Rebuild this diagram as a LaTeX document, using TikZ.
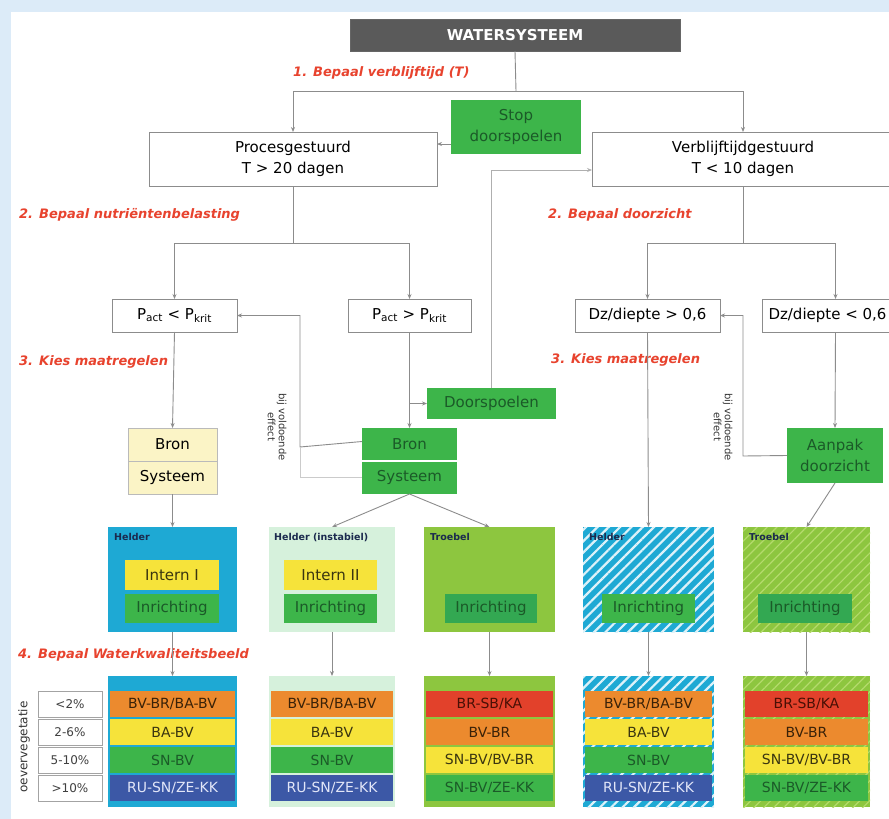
\documentclass[tikz,border=0pt]{standalone}
\usepackage{fontspec}
\setmainfont{DejaVu Sans}
\usetikzlibrary{arrows.meta,patterns.meta}
\definecolor{bgblue}{HTML}{DCEBF8}
\definecolor{lgray}{HTML}{8C8C8C}
\definecolor{dgray}{HTML}{5A5A5A}
\definecolor{grn}{HTML}{3DB54A}
\definecolor{grn2}{HTML}{33A852}
\definecolor{dkgrn}{HTML}{1B5A28}
\definecolor{rd}{HTML}{E8432E}
\definecolor{cyan1}{HTML}{1EA9D4}
\definecolor{ygrn}{HTML}{8DC63F}
\definecolor{ygrnl}{HTML}{B4DA6C}
\definecolor{mint}{HTML}{D6F1DC}
\definecolor{yel}{HTML}{F6E33A}
\definecolor{lyel}{HTML}{FBF4C6}
\definecolor{orng}{HTML}{EC8A2E}
\definecolor{red2}{HTML}{E2412B}
\definecolor{blu}{HTML}{3C58A6}
\definecolor{navy}{HTML}{1B2A4E}
\definecolor{brn}{HTML}{3A2208}
\definecolor{olv}{HTML}{3A3510}
\definecolor{drd}{HTML}{4A1005}
\definecolor{lav}{HTML}{E2E6F8}
\newcommand\rowsHelder[3]{%
 \node[rowbx, minimum width=#3, fill=orng, text=brn] (#1-1) at (#2,691) {BV-BR/BA-BV};
 \node[rowbx, minimum width=#3, fill=yel, text=olv] (#1-2) at (#2,719) {BA-BV};
 \node[rowbx, minimum width=#3, fill=grn, text=dkgrn] (#1-3) at (#2,747) {SN-BV};
 \node[rowbx, minimum width=#3, fill=blu, text=lav] (#1-4) at (#2,775) {RU-SN/ZE-KK};}
\newcommand\rowsTroebel[3]{%
 \node[rowbx, minimum width=#3, fill=red2, text=drd] (#1-1) at (#2,691) {BR-SB/KA};
 \node[rowbx, minimum width=#3, fill=orng, text=brn] (#1-2) at (#2,719) {BV-BR};
 \node[rowbx, minimum width=#3, fill=yel, text=olv] (#1-3) at (#2,747) {SN-BV/BV-BR};
 \node[rowbx, minimum width=#3, fill=grn, text=dkgrn] (#1-4) at (#2,775) {SN-BV/ZE-KK};}
\begin{document}
\begin{tikzpicture}[x=1pt,y=-1pt,
 bx/.style={inner sep=0pt, outer sep=0pt, anchor=north west, align=center, font=\fontsize{15}{21}\selectfont},
 wbox/.style={bx, draw=lgray, fill=white, line width=0.8pt},
 gbox/.style={bx, fill=grn, text=dkgrn},
 frame/.style={bx, minimum height=105pt},
 frame5/.style={bx, minimum height=131pt},
 rowbx/.style={bx, minimum height=26pt, font=\fontsize{14}{16}\selectfont},
 cell/.style={bx, draw=lgray!80, fill=white, line width=0.6pt, minimum width=64pt, minimum height=26pt, font=\fontsize{12}{14}\selectfont, text=black!75},
 tag/.style={anchor=north west, inner sep=0pt, font=\bfseries\fontsize{9.5}{11}\selectfont, text=navy},
 rot/.style={rotate=-90, align=center, font=\fontsize{10}{11}\selectfont, inner sep=1pt, text=black!80},
 steplbl/.style={text=rd, font=\bfseries\itshape\fontsize{13}{15}\selectfont, anchor=west, inner sep=1pt, fill=white},
 wire/.style={draw=lgray, line width=0.9pt},
 conn/.style={wire, -{Stealth[length=5pt,width=4pt]}},
 hatchD/.style={preaction={fill=cyan1}, pattern={Lines[angle=45,distance=8pt,line width=2.2pt]}, pattern color=white!85!cyan1},
 hatchE/.style={preaction={fill=ygrn}, pattern={Lines[angle=45,distance=7pt,line width=1.2pt]}, pattern color=ygrnl}]
\useasboundingbox (0,0) rectangle (889,819);
\clip (0,0) rectangle (889,819);
\fill[bgblue] (0,0) rectangle (889,819);
\fill[white] (11,12) rectangle (889,819);

% level 0/1
\node[bx, fill=dgray, draw=black!60, text=white, font=\bfseries\fontsize{15}{18}\selectfont, minimum width=330pt, minimum height=32pt] (ws) at (350,19) {WATERSYSTEEM};
\node[steplbl] (l1) at (292,73) {1. Bepaal verblijftijd (T)};
\node[gbox, minimum width=130pt, minimum height=54pt] (stop) at (451,100) {Stop\\doorspoelen};
\node[wbox, minimum width=288pt, minimum height=54pt] (proc) at (149,132) {Procesgestuurd\\T > 20 dagen};
\node[wbox, minimum width=302pt, minimum height=54pt] (verb) at (592,132) {Verblijftijdgestuurd\\T < 10 dagen};
\coordinate (j1) at (516,91);
\draw[wire] (ws.south) -- (j1);
\draw[conn] (j1) -| (proc.north);
\draw[conn] (j1) -| (verb.north);
\draw[conn] ([yshift=-17pt]stop.west) -- ([yshift=-17pt]stop.west -| proc.east);

% level 2
\node[steplbl] (l2a) at (18,215) {2. Bepaal nutriëntenbelasting};
\node[steplbl] (l2b) at (547,215) {2. Bepaal doorzicht};
\node[wbox, minimum width=125pt, minimum height=33pt] (plt) at (112,299) {P\textsubscript{act} < P\textsubscript{krit}};
\node[wbox, minimum width=123pt, minimum height=33pt] (pgt) at (348,299) {P\textsubscript{act} > P\textsubscript{krit}};
\node[wbox, minimum width=145pt, minimum height=33pt] (dzg) at (575,299) {Dz/diepte > 0,6};
\node[wbox, minimum width=131pt, minimum height=33pt] (dzl) at (762,299) {Dz/diepte < 0,6};
\coordinate (j2) at (293,243);
\coordinate (j3) at (743,243);
\draw[wire] (proc.south) -- (j2);
\draw[conn] (j2) -| (plt.north);
\draw[conn] (j2) -| (pgt.north);
\draw[wire] (verb.south) -- (j3);
\draw[conn] (j3) -| (dzg.north);
\draw[conn] (j3) -| ([xshift=8pt]dzl.north);

% level 3
\node[steplbl] (l3a) at (18,362) {3. Kies maatregelen};
\node[steplbl] (l3b) at (550,360) {3. Kies maatregelen};
\node[bx, fill=lyel, draw=lgray!60, minimum width=89pt, minimum height=33pt] (ybron) at (128,428) {Bron};
\node[bx, fill=lyel, draw=lgray!60, minimum width=89pt, minimum height=33pt] (ysys) at (128,461) {Systeem};
\node[gbox, minimum width=95pt, minimum height=33pt] (gbron) at (362,428) {Bron};
\node[gbox, minimum width=95pt, minimum height=33pt] (gsys) at (362,461) {Systeem};
\draw[white, line width=1.2pt] (gbron.south west) -- (gbron.south east);
\node[gbox, minimum width=129pt, minimum height=31pt] (door) at (427,388) {Doorspoelen};
\node[gbox, minimum width=96pt, minimum height=55pt] (aanpak) at (787,428) {Aanpak\\doorzicht};
\draw[conn] (plt.south) -- (ybron.north);
\draw[conn] (pgt.south) -- (gbron.north);
\draw[conn] (pgt.south |- door.west) -- (door.west);
\draw[conn, draw=lgray!70] (door.north) |- ([yshift=-11pt]verb.west);
\draw[conn] ([xshift=8pt]dzl.south) -- (aanpak.north);
\coordinate (fb1) at (300,447);
\draw[conn] ([yshift=3pt]gbron.west) -- (fb1) |- (plt.east);
\draw[wire, draw=lgray!45] (gsys.west) -| (fb1);
\node[rot] (effA) at (277,427) {bij voldoende\\effect};
\coordinate (fb2) at (743,456);
\draw[conn] (aanpak.west) -- (fb2) |- (dzg.east);
\node[rot] (effB) at (723,427) {bij voldoende\\effect};

% level 4 boxes
\node[frame, fill=cyan1, minimum width=129pt] (fA) at (108,527) {};
\node[tag] (tA) at (114,533) {Helder};
\node[bx, fill=yel, text=olv, minimum width=94pt, minimum height=30pt] (intA) at (125,560) {Intern I};
\node[bx, fill=grn, text=dkgrn, minimum width=94pt, minimum height=29pt] (inrA) at (125,594) {Inrichting};

\node[frame, fill=mint, minimum width=126pt] (fB) at (269,527) {};
\node[tag] (tB) at (274,533) {Helder (instabiel)};
\node[bx, fill=yel, text=olv, minimum width=93pt, minimum height=30pt] (intB) at (284,560) {Intern II};
\node[bx, fill=grn, text=dkgrn, minimum width=93pt, minimum height=29pt] (inrB) at (284,594) {Inrichting};

\node[frame, fill=ygrn, minimum width=131pt] (fC) at (424,527) {};
\node[tag] (tC) at (430,533) {Troebel};
\node[bx, fill=grn2, text=dkgrn, minimum width=92pt, minimum height=29pt] (inrC) at (445,594) {Inrichting};

\node[frame, hatchD, minimum width=131pt] (fD) at (583,527) {};
\node[tag] (tD) at (589,533) {Helder};
\node[bx, fill=grn, text=dkgrn, minimum width=93pt, minimum height=29pt] (inrD) at (602,594) {Inrichting};

\node[frame, hatchE, minimum width=127pt] (fE) at (743,527) {};
\node[tag] (tE) at (749,533) {Troebel};
\node[bx, fill=grn2, text=dkgrn, minimum width=94pt, minimum height=29pt] (inrE) at (758,594) {Inrichting};

\draw[conn] (ysys.south) -- (fA.north);
\draw[conn] (gsys.south) -- (fB.north);
\draw[conn] (gsys.south) -- (fC.north);
\draw[conn] (dzg.south) -- (fD.north);
\draw[conn] (aanpak.south) -- (fE.north);

% level 5
\node[steplbl] (l4) at (17,655) {4. Bepaal Waterkwaliteitsbeeld};
\node[frame5, fill=cyan1, minimum width=129pt] (gA) at (108,676) {};
\node[frame5, fill=mint, minimum width=126pt] (gB) at (269,676) {};
\node[frame5, fill=ygrn, minimum width=131pt] (gC) at (424,676) {};
\node[frame5, hatchD, minimum width=131pt] (gD) at (583,676) {};
\node[frame5, hatchE, minimum width=127pt] (gE) at (743,676) {};
\rowsHelder{rA}{110}{125pt}
\rowsHelder{rB}{271}{122pt}
\rowsTroebel{rC}{426}{127pt}
\rowsHelder{rD}{585}{127pt}
\rowsTroebel{rE}{745}{123pt}
\draw[conn] (fA.south) -- (gA.north);
\draw[conn] (fB.south) -- (gB.north);
\draw[conn] (fC.south) -- (gC.north);
\draw[conn] (fD.south) -- (gD.north);
\draw[conn] (fE.south) -- (gE.north);

% legend
\node[cell] (c1) at (38,691) {<2\%};
\node[cell] (c2) at (38,719) {2-6\%};
\node[cell] (c3) at (38,747) {5-10\%};
\node[cell] (c4) at (38,775) {>10\%};
\node[rotate=90, inner sep=0pt, font=\fontsize{12}{14}\selectfont, text=black!80] (oev) at (24,747) {oevervegetatie};
\end{tikzpicture}
\end{document}
